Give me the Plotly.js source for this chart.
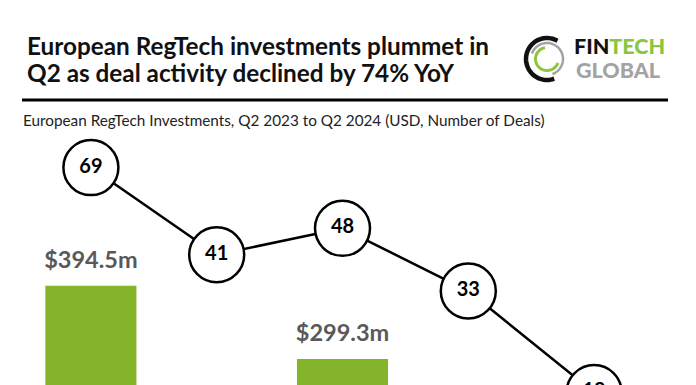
<!DOCTYPE html>
<html>
<head>
<meta charset="utf-8">
<script src="https://cdn.plot.ly/plotly-3.0.1.min.js"></script>
<style>
html,body{margin:0;padding:0;overflow:hidden;background:#fff;}
#chart{width:696px;height:385px;}
</style>
</head>
<body>
<div id="chart"></div>
<script>
// ---- data ----
var quarters = ['Q2 2023', 'Q3 2023', 'Q4 2023', 'Q1 2024', 'Q2 2024'];
var investments = [394.5, 190.0, 299.3, 216.0, 150.0];   // USD m (only Q2 2023 & Q4 2023 fully visible)
var investmentLabels = ['$394.5m', '$190.0m', '$299.3m', '$216.0m', '$150.0m'];
var deals = [69, 41, 48, 33, 18];
var dealLabels = ['69', '41', '48', '33', '18'];
var titleLines = ['European RegTech investments plummet in', 'Q2 as deal activity declined by 74% YoY'];
var subtitle = 'European RegTech Investments, Q2 2023 to Q2 2024 (USD, Number of Deals)';

// ---- layout helpers (pixel -> paper) ----
var W = 696, H = 385, ML = 28, MR = 39, MT = 130, MB = 0;
var PW = W - ML - MR, PH = H - MT - MB;
function px(x){ return (x - ML) / PW; }
function py(y){ return (H - MB - y) / PH; }

var FONT = 'Lato, "Open Sans", "Noto Sans", sans-serif';
var GREEN = '#84b42a';

function ring(r, a0, a1){
  var pts = [];
  var n = 48;
  for (var i = 0; i <= n; i++){
    var a = (a0 + (a1 - a0) * i / n) * Math.PI / 180;
    pts.push((r * Math.cos(a)).toFixed(2) + ',' + (r * Math.sin(a)).toFixed(2));
  }
  return 'M' + pts.join(' L');
}
function logoRing(r, a0, a1, color, w){
  return {type:'path', xref:'paper', yref:'paper', xsizemode:'pixel', ysizemode:'pixel',
    xanchor: px(547), yanchor: py(59), path: ring(r, a0, a1),
    line:{color:color, width:w}};
}

var traces = [
  {type:'bar', x: quarters, y: investments, marker:{color: GREEN}, hoverinfo:'skip', yaxis:'y'},
  {type:'scatter', mode:'text', x: quarters, y: investments, text: investmentLabels,
   textposition:'middle center', cliponaxis:true,
   textfont:{family: FONT, size: 23.5, color:'#595959', weight: 'bold'}, yaxis:'y3', hoverinfo:'skip'},
  {type:'scatter', mode:'lines+markers+text', x: quarters, y: deals, text: dealLabels,
   textposition:'middle center', cliponaxis:true,
   line:{color:'#000', width:2.5},
   marker:{size:55, color:'#fff', line:{color:'#000', width:2.5}},
   textfont:{family: FONT, size: 20, color:'#000', weight:'bold'}, yaxis:'y2', hoverinfo:'skip'}
];

var hidden = {showgrid:false, zeroline:false, showticklabels:false, showline:false, ticks:'', fixedrange:true};

var layout = {
  width: W, height: H,
  margin:{l:ML, r:MR, t:MT, b:MB, pad:0},
  paper_bgcolor:'#fff', plot_bgcolor:'#fff',
  showlegend:false,
  bargap: 0.276,
  xaxis: Object.assign({type:'category', range:[-0.5, 4.5]}, hidden),
  yaxis: Object.assign({range:[265.6, 596.8]}, hidden),
  yaxis2: Object.assign({type:'log', range:[1.2747, 1.9364], overlaying:'y', side:'right'}, hidden),
  yaxis3: Object.assign({range:[234.4, 565.6], overlaying:'y', side:'right'}, hidden),
  annotations:[
    {xref:'paper', yref:'paper', x:px(25), y:py(45), xanchor:'left', yanchor:'middle', align:'left', showarrow:false,
     text: titleLines[0], font:{family:FONT, size:24.3, color:'#111', weight:'bold'}},
    {xref:'paper', yref:'paper', x:px(25), y:py(73), xanchor:'left', yanchor:'middle', align:'left', showarrow:false,
     text: titleLines[1], font:{family:FONT, size:24.3, color:'#111', weight:'bold'}},
    {xref:'paper', yref:'paper', x:px(21), y:py(120), xanchor:'left', yanchor:'middle', align:'left', showarrow:false,
     text: subtitle, font:{family:FONT, size:15.3, color:'#222'}},
    {xref:'paper', yref:'paper', x:px(572), y:py(46), xanchor:'left', yanchor:'middle', showarrow:false,
     text:'FIN<span style="color:#8cc63f">TECH</span>',
     font:{family:FONT, size:21.5, color:'#111', weight:900}},
    {xref:'paper', yref:'paper', x:px(574), y:py(70), xanchor:'left', yanchor:'middle', showarrow:false,
     text:'GLOBAL',
     font:{family:FONT, size:21.5, color:'#a3a3a3', weight:900}}
  ],
  shapes:[
    {type:'line', xref:'paper', yref:'paper', x0:px(22), x1:px(668), y0:py(100), y1:py(100),
     line:{color:'#000', width:3}},
    logoRing(21, 60, 290, '#111', 4.5),
    logoRing(16, -70, 160, '#a3a3a3', 2.5),
    logoRing(11.5, 100, 340, '#8cc63f', 3)
  ]
};

Plotly.newPlot('chart', traces, layout, {staticPlot:true, displayModeBar:false});
</script>
</body>
</html>
